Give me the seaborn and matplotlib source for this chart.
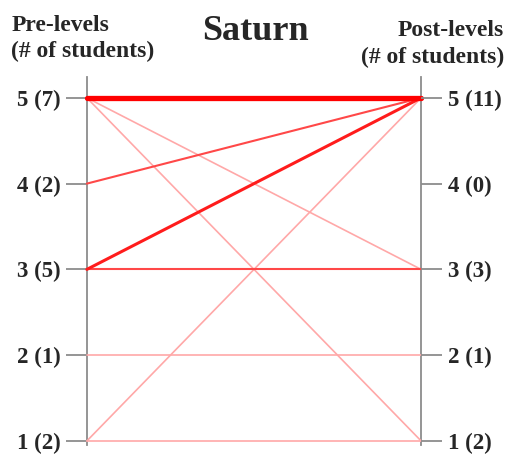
import matplotlib
matplotlib.use("Agg")
import matplotlib.pyplot as plt
import seaborn as sns
import pandas as pd

# level counts
levels = [1, 2, 3, 4, 5]
pre_counts = [2, 1, 5, 2, 7]
post_counts = [2, 1, 3, 0, 11]

# transitions pre -> post and number of students
pre_lvl = [5, 5, 5, 4, 3, 3, 2, 1, 1]
post_lvl = [5, 3, 1, 5, 5, 3, 2, 5, 1]
n_students = [5, 1, 1, 2, 3, 2, 1, 1, 1]

rows = []
for i, (a, b, n) in enumerate(zip(pre_lvl, post_lvl, n_students)):
    rows.append({'pair': i, 'x': 0, 'level': a, 'n': n})
    rows.append({'pair': i, 'x': 1, 'level': b, 'n': n})
df = pd.DataFrame(rows)

sns.set_style('white')
plt.rcParams['font.family'] = ['Liberation Serif', 'DejaVu Serif']

fig = plt.figure(figsize=(5.08, 4.55), dpi=100)
ax = fig.add_axes([0.171, 0.022, 0.658, 0.809])

# lighter red for fewer students
palette = {1: '#ffa8a8', 2: '#ff4848', 3: '#ff1c1c', 5: '#ff0000'}
sizes = {1: 1.2, 2: 1.5, 3: 2.2, 5: 3.8}
sns.lineplot(data=df, x='x', y='level', units='pair', estimator=None,
             hue='n', palette=palette, size='n', sizes=sizes,
             legend=False, ax=ax, clip_on=False, zorder=3)

ax.set_xlim(0, 1)
ax.set_ylim(0.953, 5.244)
ax.set_xticks([])
ax.set_xlabel('')
ax.set_ylabel('')
for s in ['top', 'bottom']:
    ax.spines[s].set_visible(False)
for s in ['left', 'right']:
    ax.spines[s].set_color('#8c8c8c')
    ax.spines[s].set_linewidth(1.3)

ax.set_yticks(levels)
ax.set_yticklabels([f'{l} ({c})' for l, c in zip(levels, pre_counts)],
                   fontsize=16.5, fontweight='bold')
ax.tick_params(axis='y', length=15, width=1.3, color='#8c8c8c', pad=4, left=True)

ax2 = ax.twinx()
ax2.set_ylim(ax.get_ylim())
ax2.set_yticks(levels)
ax2.set_yticklabels([f'{l} ({c})' for l, c in zip(levels, post_counts)],
                    fontsize=16.5, fontweight='bold')
ax2.tick_params(axis='y', length=15, width=1.3, color='#8c8c8c', pad=4, right=True)
for s in ax2.spines.values():
    s.set_visible(False)

fig.text(0.502, 0.93, 'Saturn', ha='center', va='center', fontsize=26, fontweight='bold')
fig.text(0.022, 0.967, 'Pre-levels\n(# of students)', ha='left', va='top',
         fontsize=17, fontweight='bold', linespacing=1.32)
fig.text(0.992, 0.955, 'Post-levels\n(# of students)', ha='right', va='top',
         fontsize=17, fontweight='bold', linespacing=1.32)

fig.savefig('out.png', dpi=100)
